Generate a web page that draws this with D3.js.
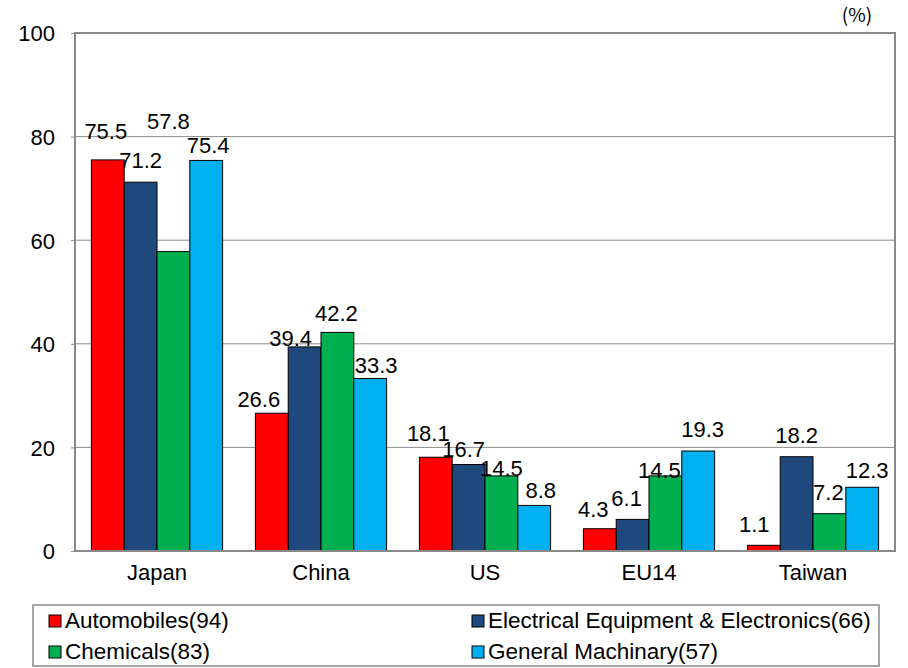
<!DOCTYPE html>
<html>
<head>
<meta charset="utf-8">
<script src="https://cdn.jsdelivr.net/npm/d3@7"></script>
<style>
  html, body { margin: 0; padding: 0; background: #fff; }
  svg text { font-family: "Liberation Sans", Arial, sans-serif; fill: #000; }
</style>
</head>
<body>
<svg id="chart" width="908" height="668"></svg>
<script>
// Regions and industries
const categories = ["Japan", "China", "US", "EU14", "Taiwan"];
const seriesNames = ["Automobiles(94)", "Electrical Equipment & Electronics(66)", "Chemicals(83)", "General Machinary(57)"];

// Share (%) by region, one array per industry
const automobiles = [75.5, 26.6, 18.1, 4.3, 1.1];
const electrical  = [71.2, 39.4, 16.7, 6.1, 18.2];
const chemicals   = [57.8, 42.2, 14.5, 14.5, 7.2];
const machinery   = [75.4, 33.3, 8.8, 19.3, 12.3];
const seriesValues = [automobiles, electrical, chemicals, machinery];

const yTicks = [0, 20, 40, 60, 80, 100];

// Colours per industry
const colors = ["#FF0000", "#1F497D", "#00B050", "#00B0F0"];

// Hand-placed label nudges [dx, gap above bar top] in px, per industry then region
const labelNudge = [
  [[-2, 21], [-13, 6], [-7.5, 16.5], [-6.5, 12], [-9.5, 13.5]],
  [[0, 14.5], [-14, 1], [-5, 7], [-6, 13.5], [0, 14]],
  [[-5, 122.5], [-1, 11.5], [0, 0], [-6, -2.5], [-1, 13.5]],
  [[2, 7], [6, 5.5], [6.5, 7.5], [4.5, 14.5], [5, 9.5]]
];

const svg = d3.select("#chart");
const plot = { left: 75, right: 895, top: 33, bottom: 551 };

const x0 = d3.scaleBand().domain(categories).range([plot.left, plot.right]).paddingInner(0).paddingOuter(0);
const x1 = d3.scaleBand().domain(d3.range(seriesNames.length)).range([0, x0.bandwidth()]).paddingInner(0).paddingOuter(0.5);
const y = d3.scaleLinear().domain([0, 100]).range([plot.bottom, plot.top]);

// Horizontal gridlines
svg.append("g").selectAll("line").data(yTicks.filter(t => t > 0 && t < 100)).join("line")
  .attr("x1", plot.left).attr("x2", plot.right)
  .attr("y1", d => y(d)).attr("y2", d => y(d))
  .attr("stroke", "#8c8c8c").attr("stroke-width", 1);

// Y axis with outward ticks
const yAxis = svg.append("g").attr("transform", `translate(${plot.left},0)`)
  .call(d3.axisLeft(y).tickValues(yTicks).tickSize(4).tickPadding(16).tickFormat(d3.format("d")));
yAxis.select(".domain").remove();
yAxis.selectAll(".tick line").attr("stroke", "#8c8c8c").attr("stroke-width", 1);
yAxis.selectAll(".tick text").attr("font-size", "22px").attr("dy", "0.36em")
  .style("font-family", "'Liberation Sans', Arial, sans-serif").attr("fill", "#000");

// Bars
const groups = svg.append("g").selectAll("g").data(seriesValues).join("g")
  .attr("fill", (d, i) => colors[i]);
groups.each(function(vals, si) {
  d3.select(this).selectAll("rect").data(vals).join("rect")
    .attr("x", (v, ci) => x0(categories[ci]) + x1(si))
    .attr("y", v => y(v))
    .attr("width", x1.bandwidth())
    .attr("height", v => y(0) - y(v))
    .attr("stroke", "#000").attr("stroke-width", 1);
});

// Value labels
groups.each(function(vals, si) {
  d3.select(this).selectAll("text").data(vals).join("text")
    .attr("x", (v, ci) => x0(categories[ci]) + x1(si) + x1.bandwidth() / 2 + labelNudge[si][ci][0])
    .attr("y", (v, ci) => y(v) - labelNudge[si][ci][1])
    .attr("text-anchor", "middle").attr("font-size", "22px").attr("fill", "#000")
    .text(v => d3.format(".1f")(v));
});

// Plot frame
svg.append("rect")
  .attr("x", plot.left).attr("y", plot.top)
  .attr("width", plot.right - plot.left).attr("height", plot.bottom - plot.top)
  .attr("fill", "none").attr("stroke", "#898989").attr("stroke-width", 2);

// Category labels
svg.append("g").selectAll("text").data(categories).join("text")
  .attr("x", d => x0(d) + x0.bandwidth() / 2).attr("y", 580)
  .attr("text-anchor", "middle").attr("font-size", "22px")
  .text(d => d);

// Unit
svg.append("text").attr("x", 857).attr("y", 22).attr("text-anchor", "middle")
  .attr("font-size", "19px").style("font-family", "'Noto Sans CJK JP', sans-serif")
  .text("(%)");

// Legend
const legend = svg.append("g");
legend.append("rect").attr("x", 33).attr("y", 605).attr("width", 846).attr("height", 61)
  .attr("fill", "#fff").attr("stroke", "#898989").attr("stroke-width", 1.5);
const legendCols = [49, 472];
const legendRows = [621, 652];
const items = legend.selectAll("g").data(seriesNames).join("g")
  .attr("transform", (d, i) => `translate(${legendCols[i % 2]},${legendRows[Math.floor(i / 2)]})`);
items.append("rect").attr("x", 0).attr("y", -6).attr("width", 12).attr("height", 12)
  .attr("fill", (d, i) => colors[i]).attr("stroke", "#000").attr("stroke-width", 1);
items.append("text").attr("x", 16).attr("y", 7).attr("font-size", "22.5px").text(d => d);
</script>
</body>
</html>
